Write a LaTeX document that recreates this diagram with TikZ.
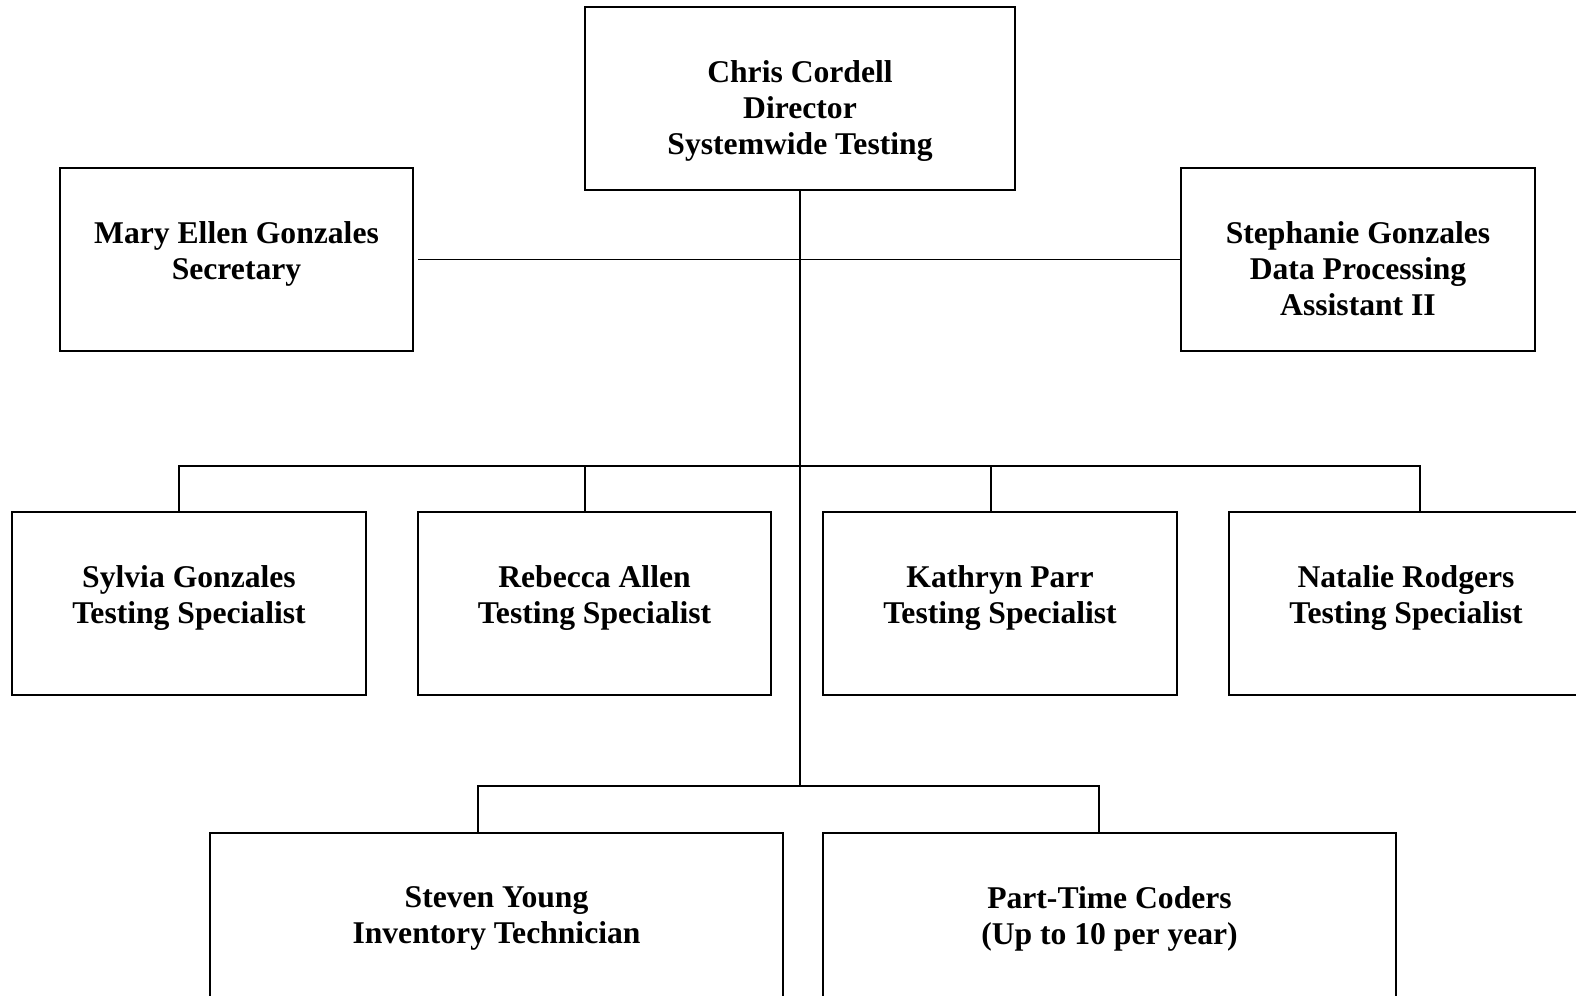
\documentclass[tikz,border=0pt]{standalone}
\usepackage{fontspec}
\setmainfont{Liberation Serif}
\usetikzlibrary{positioning}
\begin{document}
\begin{tikzpicture}[
    box/.style={draw, line width=0.6pt, inner sep=0, minimum height=1.83cm},
    lbl/.style={inner sep=0, align=center, font=\bfseries\fontsize{9}{10.24}\selectfont},
    link/.style={line width=0.45pt}]
       \clip (0,0) rectangle (15.76,-9.96);
       % top row
       \node [box, minimum width=4.30cm] (chris) at (8.00,-0.985) {};
       \node [box, minimum width=3.53cm] (mary) at (2.365,-2.595) {};
       \node [box, minimum width=3.54cm] (steph) at (13.58,-2.595) {};
       \node [lbl, below=0.535cm of chris.north] (chrisT) {Chris Cordell\\Director\\Systemwide Testing};
       \node [lbl, below=0.535cm of mary.north] (maryT) {Mary Ellen Gonzales\\Secretary};
       \node [lbl, below=0.535cm of steph.north] (stephT) {Stephanie Gonzales\\Data Processing\\Assistant II};
       % specialists
       \node [box, minimum width=3.54cm] (sylvia) at (1.89,-6.035) {};
       \node [box, minimum width=3.53cm] (rebecca) at (5.945,-6.035) {};
       \node [box, minimum width=3.54cm] (kathryn) at (10.00,-6.035) {};
       \node [box, minimum width=3.54cm] (natalie) at (14.06,-6.035) {};
       \node [lbl, below=0.535cm of sylvia.north] (sylviaT) {Sylvia Gonzales\\Testing Specialist};
       \node [lbl, below=0.535cm of rebecca.north] (rebeccaT) {Rebecca Allen\\Testing Specialist};
       \node [lbl, below=0.535cm of kathryn.north] (kathrynT) {Kathryn Parr\\Testing Specialist};
       \node [lbl, below=0.535cm of natalie.north] (natalieT) {Natalie Rodgers\\Testing Specialist};
       % bottom row
       \node [box, minimum width=5.73cm] (steven) at (4.965,-9.245) {};
       \node [box, minimum width=5.73cm] (coders) at (11.095,-9.245) {};
       \node [lbl, below=0.535cm of steven.north] (stevenT) {Steven Young\\Inventory Technician};
       \node [lbl, below=0.535cm of coders.north] (codersT) {Part-Time Coders\\(Up to 10 per year)};
       % lines
       \coordinate (rowbus) at (8,-4.66);
       \coordinate (botbus) at (8,-7.86);
       \draw [link] (chris.south) -- (botbus);
       \draw [link] ([xshift=0.4mm]mary.east) -- (steph.west);
       \draw [link] ([xshift=-1mm]sylvia.north) |- (rowbus) -| ([xshift=1.4mm]natalie.north);
       \draw [link] ([xshift=-0.95mm]rebecca.north) -- ([xshift=-0.95mm]rebecca.north |- rowbus);
       \draw [link] ([xshift=-0.9mm]kathryn.north) -- ([xshift=-0.9mm]kathryn.north |- rowbus);
       \draw [link] ([xshift=-1.85mm]steven.north) |- (botbus) -| ([xshift=-1.05mm]coders.north);
\end{tikzpicture}
\end{document}
